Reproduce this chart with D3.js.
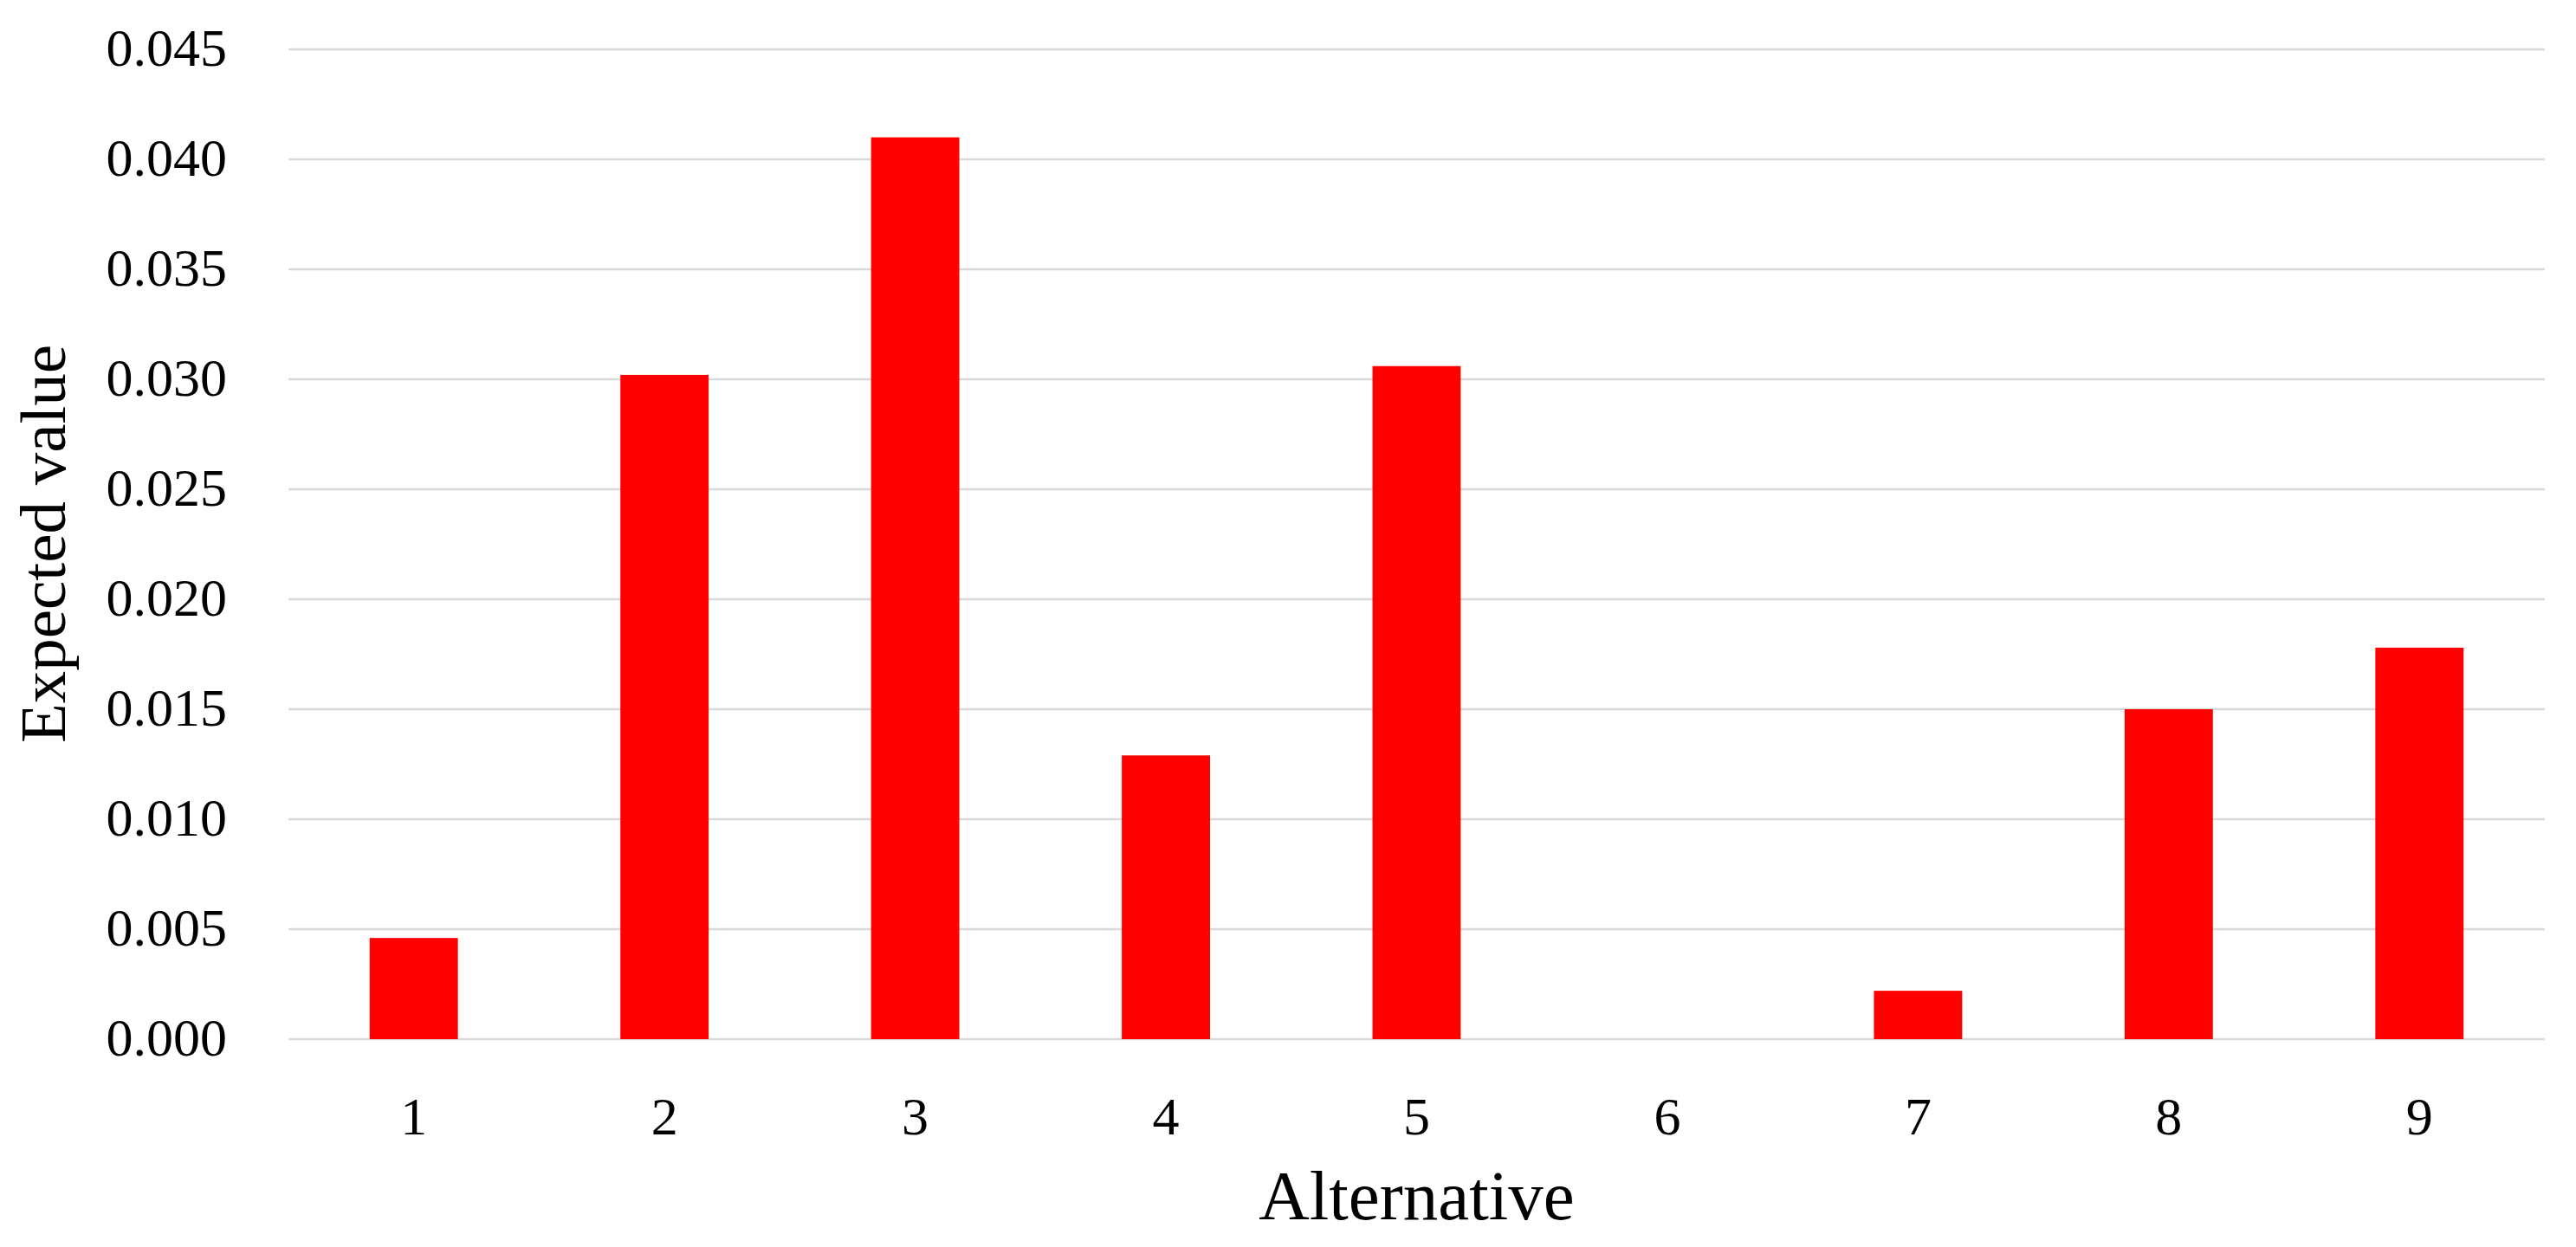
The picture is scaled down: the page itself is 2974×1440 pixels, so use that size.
<!DOCTYPE html>
<html>
<head>
<meta charset="utf-8">
<script src="https://cdn.jsdelivr.net/npm/d3@7"></script>
<style>
  body { margin: 0; background: #fff; }
  svg { display: block; }
  text { font-family: "Liberation Serif", serif; fill: #000; }
</style>
</head>
<body>
<script>
// chart values
const alternatives = ["1", "2", "3", "4", "5", "6", "7", "8", "9"];
const expectedValues = [0.0046, 0.0302, 0.0410, 0.0129, 0.0306, 0.0, 0.0022, 0.0150, 0.0178];
const yTicks = [0, 0.005, 0.010, 0.015, 0.020, 0.025, 0.030, 0.035, 0.040, 0.045];

function draw() {
    "use strict";
    const W = 2974, H = 1440;
    const plot = { left: 333, right: 2938, top: 57, bottom: 1200 };

    const svg = d3.select("body")
        .append("svg")
        .attr("width", W)
        .attr("height", H);

    let x = d3.scaleBand()
        .domain(alternatives)
        .range([plot.left, plot.right])
        .paddingInner(0.648)
        .paddingOuter(0.324);

    let y = d3.scaleLinear()
        .domain([0, 0.045])
        .range([plot.bottom, plot.top]);

    // horizontal gridlines
    svg.append("g")
        .attr("class", "grid")
        .selectAll("line")
        .data(yTicks)
        .enter()
        .append("line")
        .attr("x1", plot.left)
        .attr("x2", plot.right)
        .attr("y1", d => y(d))
        .attr("y2", d => y(d))
        .style("stroke", "#d9d9d9")
        .style("stroke-width", 2.5);

    // y axis labels
    let yAxis = d3.axisLeft(y)
        .tickValues(yTicks)
        .tickFormat(d3.format(".3f"))
        .tickSize(0)
        .tickPadding(71);

    svg.append("g")
        .attr("transform", `translate(${plot.left},0)`)
        .call(yAxis)
        .call(g => g.select(".domain").remove())
        .selectAll("text")
        .style("font-family", "Liberation Serif, serif")
        .style("font-size", "62px")
        .attr("dy", "0.3em");

    // bars
    svg.append("g")
        .selectAll("rect")
        .data(expectedValues)
        .enter()
        .append("rect")
        .attr("x", (d, i) => x(alternatives[i]))
        .attr("width", x.bandwidth())
        .attr("y", d => y(d))
        .attr("height", d => y(0) - y(d))
        .style("fill", "#ff0000");

    // x axis labels
    let xAxis = d3.axisBottom(x)
        .tickSize(0)
        .tickPadding(110);

    svg.append("g")
        .attr("transform", `translate(0,${plot.bottom})`)
        .call(xAxis)
        .call(g => g.select(".domain").remove())
        .selectAll("text")
        .style("font-family", "Liberation Serif, serif")
        .style("font-size", "62px")
        .attr("dy", "0");

    // axis titles
    svg.append("text")
        .attr("x", (plot.left + plot.right) / 2)
        .attr("y", 1408)
        .attr("text-anchor", "middle")
        .style("font-size", "81px")
        .text("Alternative");

    svg.append("text")
        .attr("transform", "translate(75,628) rotate(-90)")
        .attr("text-anchor", "middle")
        .style("font-size", "75px")
        .text("Expected value");
}

draw();
</script>
</body>
</html>
